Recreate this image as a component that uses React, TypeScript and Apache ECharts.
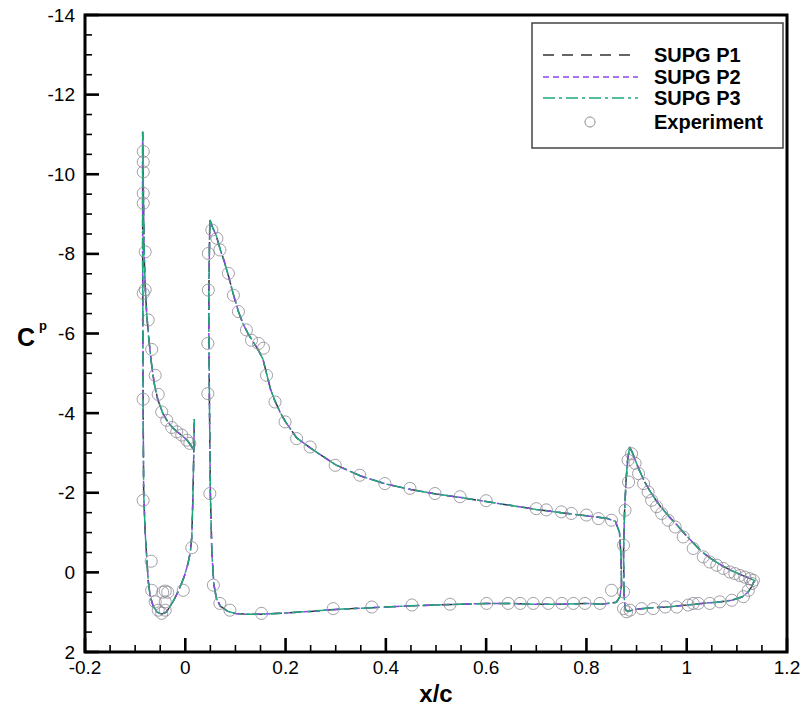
import React, { useEffect, useRef } from "react";
import * as echarts from "echarts";

// ---- Data (x/c, Cp) ----
const xTicks = [-0.2, 0, 0.2, 0.4, 0.6, 0.8, 1, 1.2];
const yTicks = [-14, -12, -10, -8, -6, -4, -2, 0, 2];
const xMinorStep = 0.05;
const yMinorStep = 0.5;

const slatX = [0.016, 0.005, -0.005, -0.015, -0.025, -0.035, -0.045, -0.055, -0.062, -0.068, -0.073, -0.077, -0.080, -0.082, -0.083, -0.084, -0.085,
  -0.085, -0.084, -0.083, -0.080, -0.077, -0.074, -0.070, -0.064, -0.056, -0.047, -0.038, -0.030, -0.022, -0.012, -0.002, 0.005, 0.010, 0.013, 0.015, 0.017, 0.018];
const slatCp = [-3.10, -3.30, -3.42, -3.52, -3.63, -3.78, -4.0, -4.35, -4.75, -5.3, -5.9, -6.5, -7.2, -8.0, -9.0, -10.0, -11.07,
  -8.0, -4.0, -2.0, -1.0, -0.4, 0.2, 0.6, 0.85, 1.0, 1.05, 1.0, 0.85, 0.68, 0.42, 0.1, -0.2, -0.5, -0.9, -1.8, -3.0, -3.85];

const mainX = [0.049, 0.055, 0.062, 0.070, 0.078, 0.086, 0.096, 0.106, 0.115, 0.125, 0.135, 0.145, 0.155, 0.162, 0.170, 0.179, 0.19, 0.2, 0.222, 0.25, 0.3, 0.35, 0.4, 0.45, 0.5, 0.55, 0.6, 0.65, 0.7, 0.75, 0.8, 0.84, 0.858, 0.866, 0.869, 0.870, 0.867, 0.860,
  0.83, 0.8, 0.75, 0.7, 0.65, 0.6, 0.5, 0.45, 0.4, 0.35, 0.3, 0.25, 0.2, 0.15, 0.12, 0.1, 0.085, 0.07, 0.062, 0.057, 0.053, 0.050, 0.048, 0.047, 0.047, 0.048, 0.049];
const mainCp = [-8.85, -8.65, -8.45, -8.1, -7.8, -7.45, -6.98, -6.55, -6.25, -6.0, -5.8, -5.6, -5.35, -5.0, -4.6, -4.3, -4.0, -3.78, -3.38, -3.12, -2.7, -2.42, -2.22, -2.08, -1.97, -1.88, -1.78, -1.68, -1.58, -1.5, -1.42, -1.36, -1.28, -1.0, -0.4, 0.3, 0.6, 0.75,
  0.8, 0.78, 0.8, 0.8, 0.78, 0.78, 0.82, 0.84, 0.87, 0.9, 0.93, 0.98, 1.02, 1.05, 1.05, 1.03, 0.98, 0.85, 0.65, 0.3, -0.5, -2.0, -4.5, -6.0, -7.0, -8.0, -8.85];

const flapX = [0.886, 0.892, 0.898, 0.905, 0.915, 0.925, 0.935, 0.945, 0.955, 0.965, 0.98, 0.995, 1.01, 1.03, 1.05, 1.07, 1.09, 1.11, 1.125, 1.135,
  1.13, 1.122, 1.11, 1.09, 1.06, 1.03, 1.0, 0.96, 0.92, 0.895, 0.885, 0.878, 0.875, 0.874, 0.876, 0.879, 0.882, 0.886];
const flapCp = [-3.15, -3.0, -2.8, -2.58, -2.3, -2.08, -1.88, -1.7, -1.55, -1.4, -1.2, -0.98, -0.78, -0.52, -0.33, -0.17, -0.04, 0.07, 0.15, 0.2,
  0.35, 0.5, 0.62, 0.7, 0.75, 0.78, 0.82, 0.87, 0.9, 0.93, 0.98, 0.95, 0.6, -0.5, -1.5, -2.3, -2.8, -3.15];

const expX = [
  // slat
  -0.0838, -0.0838, -0.0838, -0.0838, -0.0838, -0.080, -0.0838, -0.080, -0.074, -0.067, -0.060, -0.084, -0.054, -0.047, -0.037, -0.027, -0.017, -0.007, 0.003, 0.009,
  -0.084, -0.068, -0.067, -0.060, -0.054, -0.047, -0.040, -0.040, -0.045, -0.040, -0.035, -0.004, 0.013,
  // main
  0.046, 0.046, 0.045, 0.045, 0.049, 0.056, 0.069, 0.089, 0.152, 0.053, 0.063, 0.069, 0.086, 0.096, 0.106, 0.122, 0.132, 0.146, 0.156, 0.162, 0.179, 0.199, 0.222, 0.249,
  0.299, 0.348, 0.398, 0.448, 0.498, 0.548, 0.60, 0.70, 0.72, 0.75, 0.77, 0.80, 0.824, 0.85,
  0.295, 0.372, 0.452, 0.528, 0.601, 0.644, 0.668, 0.694, 0.724, 0.751, 0.774, 0.797, 0.827, 0.85,
  // flap
  0.874, 0.874, 0.877, 0.884, 0.883, 0.89, 0.897, 0.904, 0.914, 0.923, 0.930, 0.940, 0.950, 0.963, 0.977, 0.993, 1.013, 1.033, 1.046, 1.06, 1.073, 1.086, 1.096, 1.106, 1.116, 1.126, 1.133,
  0.874, 0.880, 0.887, 0.910, 0.933, 0.957, 0.980, 1.003, 1.013, 1.023, 1.046, 1.066, 1.09, 1.113, 1.123, 1.13,
];
const expCp = [
  -10.57, -10.31, -10.06, -9.52, -9.27, -8.05, -7.01, -7.1, -6.34, -5.6, -4.95, -4.35, -4.47, -4.03, -3.82, -3.64, -3.53, -3.45, -3.32, -3.24,
  -1.81, -0.28, 0.45, 0.74, 0.95, 1.03, 0.95, 0.74, 0.5, 0.47, 0.5, 0.45, -0.62,
  -8.01, -7.09, -5.75, -4.49, -1.98, 0.32, 0.78, 0.95, 1.03, -8.6, -8.39, -8.1, -7.51, -6.96, -6.55, -6.09, -5.83, -5.75, -5.63, -4.95, -4.28, -3.78, -3.36, -3.15,
  -2.69, -2.44, -2.23, -2.11, -1.98, -1.9, -1.8, -1.6, -1.57, -1.52, -1.48, -1.44, -1.35, -1.31,
  0.91, 0.87, 0.82, 0.8, 0.78, 0.78, 0.78, 0.78, 0.78, 0.78, 0.78, 0.78, 0.78, 0.45,
  0.49, -0.68, -1.56, -2.27, -2.82, -2.98, -2.74, -2.48, -2.23, -2.02, -1.81, -1.65, -1.48, -1.31, -1.14, -0.89, -0.60, -0.39, -0.26, -0.18, -0.1, -0.01, 0.03, 0.08, 0.12, 0.16, 0.2,
  0.91, 0.99, 0.95, 0.91, 0.91, 0.87, 0.87, 0.82, 0.78, 0.78, 0.78, 0.74, 0.7, 0.61, 0.45, 0.28,
];

const seriesNames = ["SUPG P1", "SUPG P2", "SUPG P3"];
const seriesColors = ["#333333", "#8e44ec", "#1ea67c"];
const seriesDash: number[][] = [[11, 8], [6, 4], [12, 4, 3, 4]];

const FONT = '"Liberation Sans", Arial, Helvetica, sans-serif';
const W = 812, H = 702;
const G_LEFT = 85, G_TOP = 15, G_RIGHT = 25, G_BOTTOM = 50;

function pairs(xs: number[], ys: number[]) {
  return xs.map((x, i) => [x, ys[i]]);
}

// Tick marks as thin filled rectangles (inside the frame)
function buildTickGraphic() {
  const out: any[] = [];
  const xMin = xTicks[0], xMax = xTicks[xTicks.length - 1];
  const yMin = yTicks[0], yMax = yTicks[yTicks.length - 1];
  const pw = W - G_LEFT - G_RIGHT;
  const ph = H - G_TOP - G_BOTTOM;
  const bottom = H - G_BOTTOM;
  const nx = Math.round((xMax - xMin) / xMinorStep);
  for (let i = 0; i <= nx; i++) {
    const px = G_LEFT + ((i * xMinorStep) / (xMax - xMin)) * pw;
    const major = i % 4 === 0;
    const len = major ? 14 : 7;
    const w = major ? 2.6 : 1.6;
    out.push({
      type: "rect",
      z: 110,
      shape: { x: px - w / 2, y: bottom - len, width: w, height: len },
      style: { fill: "#000", stroke: "none" },
    });
  }
  const ny = Math.round((yMax - yMin) / yMinorStep);
  for (let i = 0; i <= ny; i++) {
    const py = G_TOP + ((i * yMinorStep) / (yMax - yMin)) * ph;
    const major = i % 4 === 0;
    const len = major ? 14 : 7;
    const w = major ? 2.6 : 1.6;
    out.push({
      type: "rect",
      z: 110,
      shape: { x: G_LEFT, y: py - w / 2, width: len, height: w },
      style: { fill: "#000", stroke: "none" },
    });
  }
  return out;
}

export default function App() {
  const ref = useRef<HTMLDivElement>(null);
  useEffect(() => {
    if (!ref.current) return;
    const chart = echarts.init(ref.current, undefined, { renderer: "svg" });
    const elements = [
      [slatX, slatCp],
      [mainX, mainCp],
      [flapX, flapCp],
    ];
    const lineSeries: any[] = [];
    seriesNames.forEach((name, si) => {
      elements.forEach(([xs, ys], ei) => {
        lineSeries.push({
          name,
          id: name + "-" + ei,
          type: "line",
          data: pairs(xs as number[], ys as number[]),
          showSymbol: false,
          symbol: "none",
          smooth: false,
          lineStyle: { color: seriesColors[si], width: 1.5, type: seriesDash[si] },
          z: 2 + si,
        });
      });
    });
    const legendRows = [55, 77, 98, 122];
    const graphic: any[] = [
      {
        type: "rect",
        z: 105,
        shape: { x: G_LEFT, y: G_TOP, width: W - G_LEFT - G_RIGHT, height: H - G_TOP - G_BOTTOM },
        style: { fill: "none", stroke: "#000", lineWidth: 3 },
      },
      ...buildTickGraphic(),
      {
        type: "rect",
        z: 100,
        shape: { x: 532, y: 23, width: 251, height: 125 },
        style: { fill: "#fff", stroke: "#444", lineWidth: 1.5 },
      },
      ...seriesNames.map((n, i) => ({
        type: "line",
        z: 101,
        shape: { x1: 543, y1: legendRows[i], x2: 638, y2: legendRows[i] },
        style: { stroke: seriesColors[i], lineWidth: 1.5, lineDash: seriesDash[i] },
      })),
      {
        type: "circle",
        z: 101,
        shape: { cx: 590, cy: legendRows[3], r: 5 },
        style: { fill: "none", stroke: "#888", lineWidth: 1 },
      },
      ...[...seriesNames, "Experiment"].map((n, i) => ({
        type: "text",
        z: 101,
        style: {
          text: n,
          x: 654,
          y: legendRows[i],
          fill: "#000",
          font: `bold 20px ${FONT}`,
          verticalAlign: "middle",
          textVerticalAlign: "middle",
        },
      })),
      {
        type: "text",
        z: 101,
        style: { text: "C", x: 26, y: 337, fill: "#000", font: `bold 25px ${FONT}`, align: "center", textAlign: "center", verticalAlign: "middle", textVerticalAlign: "middle" },
      },
      {
        type: "text",
        z: 101,
        style: { text: "p", x: 43, y: 325, fill: "#000", font: `bold 13px ${FONT}`, align: "center", textAlign: "center", verticalAlign: "middle", textVerticalAlign: "middle" },
      },
    ];
    chart.setOption({
      animation: false,
      backgroundColor: "#fff",
      grid: {
        left: G_LEFT, top: G_TOP, right: G_RIGHT, bottom: G_BOTTOM,
        show: false,
        containLabel: false, outerBoundsMode: "none",
      },
      xAxis: {
        type: "value",
        position: "bottom",
        min: xTicks[0],
        max: xTicks[xTicks.length - 1],
        interval: 0.2,
        name: "x/c",
        nameLocation: "middle",
        nameGap: 18,
        nameTextStyle: { fontSize: 24, fontWeight: "bold", color: "#000", fontFamily: FONT },
        axisLine: { show: false, onZero: false },
        axisTick: { show: false },
        splitLine: { show: false },
        axisLabel: {
          fontSize: 19,
          color: "#000",
          fontFamily: FONT,
          margin: 6,
          formatter: (v: number) => String(Math.round(v * 10) / 10),
        },
      },
      yAxis: {
        type: "value",
        position: "left",
        inverse: true,
        min: yTicks[0],
        max: yTicks[yTicks.length - 1],
        interval: 2,
        axisLine: { show: false, onZero: false },
        axisTick: { show: false },
        splitLine: { show: false },
        axisLabel: { fontSize: 19, color: "#000", fontFamily: FONT, margin: 10 },
      },
      series: [
        ...lineSeries,
        {
          name: "Experiment",
          type: "scatter",
          data: pairs(expX, expCp),
          symbol: "circle",
          symbolSize: 12,
          itemStyle: { color: "rgba(255,255,255,0)", borderColor: "#8a8590", borderWidth: 1 },
          z: 10,
        },
      ],
      graphic,
    });
    return () => chart.dispose();
  }, []);
  return <div ref={ref} style={{ width: W, height: H, position: "absolute", left: 0, top: 0 }} />;
}
